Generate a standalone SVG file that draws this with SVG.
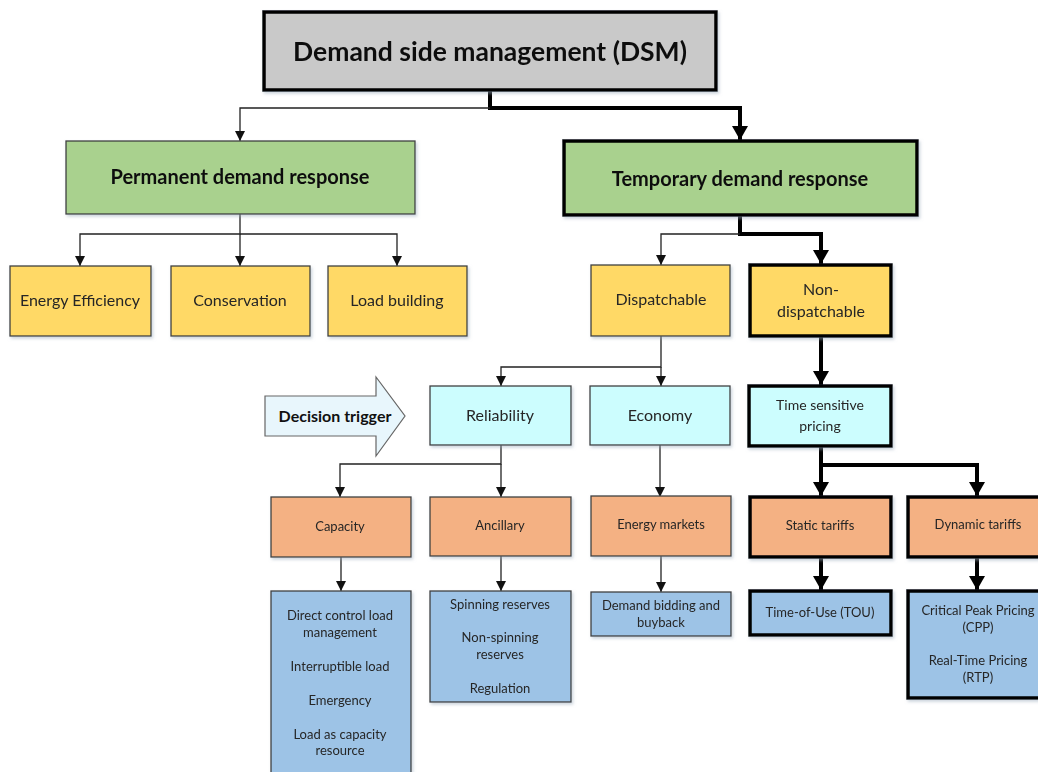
<svg xmlns="http://www.w3.org/2000/svg" width="1038" height="772" viewBox="0 0 1038 772">
<style>
text{font-family:Lato,"Open Sans","Liberation Sans",sans-serif;fill:#262626;text-anchor:middle}
.b{font-weight:bold;fill:#111}
.t{font-size:16px}
.s{font-size:13px}
.m{font-size:14px}
rect{stroke:#404040;stroke-width:1.3}
.k{stroke:#000;stroke-width:3.5}
.gray{fill:#c9c9c9}
.green{fill:#a9d18e}
.yel{fill:#ffd966}
.cyan{fill:#ccfdfe}
.org{fill:#f4b183}
.blue{fill:#9dc3e6}
.thin{fill:none;stroke:#222;stroke-width:1.3}
.thick{fill:none;stroke:#000;stroke-width:4}
</style>
<defs>
<marker id="a" markerUnits="userSpaceOnUse" markerWidth="10" markerHeight="10" refX="10" refY="5" orient="auto"><path d="M0,0 L10,5 L0,10 z" fill="#111"/></marker>
<marker id="A" markerUnits="userSpaceOnUse" markerWidth="14" markerHeight="16" refX="14" refY="8" orient="auto"><path d="M0,0 L14,8 L0,16 z" fill="#000"/></marker>
<filter id="sh" x="-5%" y="-5%" width="112%" height="120%"><feDropShadow dx="1.5" dy="2" stdDeviation="1.5" flood-color="#9ab" flood-opacity="0.5"/></filter>
</defs>

<g id="connectors">
<path class="thick" d="M490,90 V108 H740 V140" marker-end="url(#A)"/>
<path class="thin" d="M490,108 H240 V141" marker-end="url(#a)"/>
<path class="thin" d="M240,214 V234 H80 V266" marker-end="url(#a)"/>
<path class="thin" d="M240,234 V266" marker-end="url(#a)"/>
<path class="thin" d="M240,234 H397 V266" marker-end="url(#a)"/>
<path class="thick" d="M740,216 V234 H821 V264" marker-end="url(#A)"/>
<path class="thin" d="M740,234 H661 V265" marker-end="url(#a)"/>
<path class="thin" d="M661,336 V367 H501 V386" marker-end="url(#a)"/>
<path class="thin" d="M661,367 V386" marker-end="url(#a)"/>
<path class="thick" d="M821,336 V385" marker-end="url(#A)"/>
<path class="thin" d="M501,445 V464 H340 V497" marker-end="url(#a)"/>
<path class="thin" d="M501,464 V497" marker-end="url(#a)"/>
<path class="thin" d="M660,445 V497" marker-end="url(#a)"/>
<path class="thick" d="M821,446 V465 H977 V496" marker-end="url(#A)"/>
<path class="thick" d="M821,465 V496" marker-end="url(#A)"/>
<path class="thin" d="M341,557 V591" marker-end="url(#a)"/>
<path class="thin" d="M501,556 V591" marker-end="url(#a)"/>
<path class="thin" d="M661,556 V592" marker-end="url(#a)"/>
<path class="thick" d="M821,557 V590" marker-end="url(#A)"/>
<path class="thick" d="M977,557 V590" marker-end="url(#A)"/>
</g>

<g id="dsm" filter="url(#sh)"><rect class="gray k" x="264" y="12" width="452" height="78"/><text class="b" x="490" y="61" font-size="26.5">Demand side management (DSM)</text></g>

<g id="permanent" filter="url(#sh)"><rect class="green" x="66" y="141" width="349" height="73"/><text class="b" x="240" y="184" font-size="20">Permanent demand response</text></g>
<g id="temporary" filter="url(#sh)"><rect class="green k" x="564" y="141" width="353" height="74"/><text class="b" x="740" y="186" font-size="20">Temporary demand response</text></g>

<g id="energy-efficiency" filter="url(#sh)"><rect class="yel" x="10" y="266" width="141" height="70"/><text class="t" x="80" y="306">Energy Efficiency</text></g>
<g id="conservation" filter="url(#sh)"><rect class="yel" x="171" y="266" width="139" height="70"/><text class="t" x="240" y="306">Conservation</text></g>
<g id="load-building" filter="url(#sh)"><rect class="yel" x="328" y="266" width="139" height="70"/><text class="t" x="397" y="306">Load building</text></g>

<g id="dispatchable" filter="url(#sh)"><rect class="yel" x="591" y="265" width="139" height="71"/><text class="t" x="661" y="305">Dispatchable</text></g>
<g id="non-dispatchable" filter="url(#sh)"><rect class="yel k" x="750" y="265" width="141" height="71"/><text class="t" x="821" y="295">Non-</text><text class="t" x="821" y="317">dispatchable</text></g>

<g id="decision-trigger"><path d="M265,396 H376 V377 L405,416 L376,456 V436 H265 Z" fill="#e8f6fc" stroke="#666" stroke-width="1.2"/><text class="b" x="335" y="422" font-size="16">Decision trigger</text></g>

<g id="reliability" filter="url(#sh)"><rect class="cyan" x="430" y="386" width="141" height="59"/><text class="t" x="500" y="421">Reliability</text></g>
<g id="economy" filter="url(#sh)"><rect class="cyan" x="590" y="386" width="140" height="59"/><text class="t" x="660" y="421">Economy</text></g>
<g id="time-sensitive" filter="url(#sh)"><rect class="cyan k" x="749" y="386" width="142" height="60"/><text class="m" x="820" y="410">Time sensitive</text><text class="m" x="820" y="431">pricing</text></g>

<g id="capacity" filter="url(#sh)"><rect class="org" x="271" y="497" width="140" height="60"/><text class="s" x="340" y="531">Capacity</text></g>
<g id="ancillary" filter="url(#sh)"><rect class="org" x="430" y="497" width="141" height="59"/><text class="s" x="500" y="530">Ancillary</text></g>
<g id="energy-markets" filter="url(#sh)"><rect class="org" x="591" y="496" width="140" height="60"/><text class="s" x="661" y="529">Energy markets</text></g>
<g id="static-tariffs" filter="url(#sh)"><rect class="org k" x="750" y="497" width="141" height="60"/><text class="s" x="820" y="530">Static tariffs</text></g>
<g id="dynamic-tariffs" filter="url(#sh)"><rect class="org k" x="908" y="497" width="140" height="60"/><text class="s" x="978" y="529">Dynamic tariffs</text></g>

<g id="capacity-items" filter="url(#sh)"><rect class="blue" x="271" y="591" width="140" height="190"/>
<text class="s" x="340" y="620">Direct control load</text><text class="s" x="340" y="637">management</text>
<text class="s" x="340" y="671">Interruptible load</text>
<text class="s" x="340" y="705">Emergency</text>
<text class="s" x="340" y="739">Load as capacity</text><text class="s" x="340" y="755">resource</text></g>
<g id="ancillary-items" filter="url(#sh)"><rect class="blue" x="430" y="591" width="141" height="111"/>
<text class="s" x="500" y="609">Spinning reserves</text>
<text class="s" x="500" y="642">Non-spinning</text><text class="s" x="500" y="659">reserves</text>
<text class="s" x="500" y="693">Regulation</text></g>
<g id="demand-bidding" filter="url(#sh)"><rect class="blue" x="591" y="592" width="140" height="44"/>
<text class="s" x="661" y="610">Demand bidding and</text><text class="s" x="661" y="627">buyback</text></g>
<g id="tou" filter="url(#sh)"><rect class="blue k" x="750" y="591" width="141" height="44"/><text class="s" x="820" y="617">Time-of-Use (TOU)</text></g>
<g id="cpp-rtp" filter="url(#sh)"><rect class="blue k" x="908" y="591" width="140" height="107"/>
<text class="s" x="978" y="615">Critical Peak Pricing</text><text class="s" x="978" y="632">(CPP)</text>
<text class="s" x="978" y="665">Real-Time Pricing</text><text class="s" x="978" y="682">(RTP)</text></g>
</svg>
